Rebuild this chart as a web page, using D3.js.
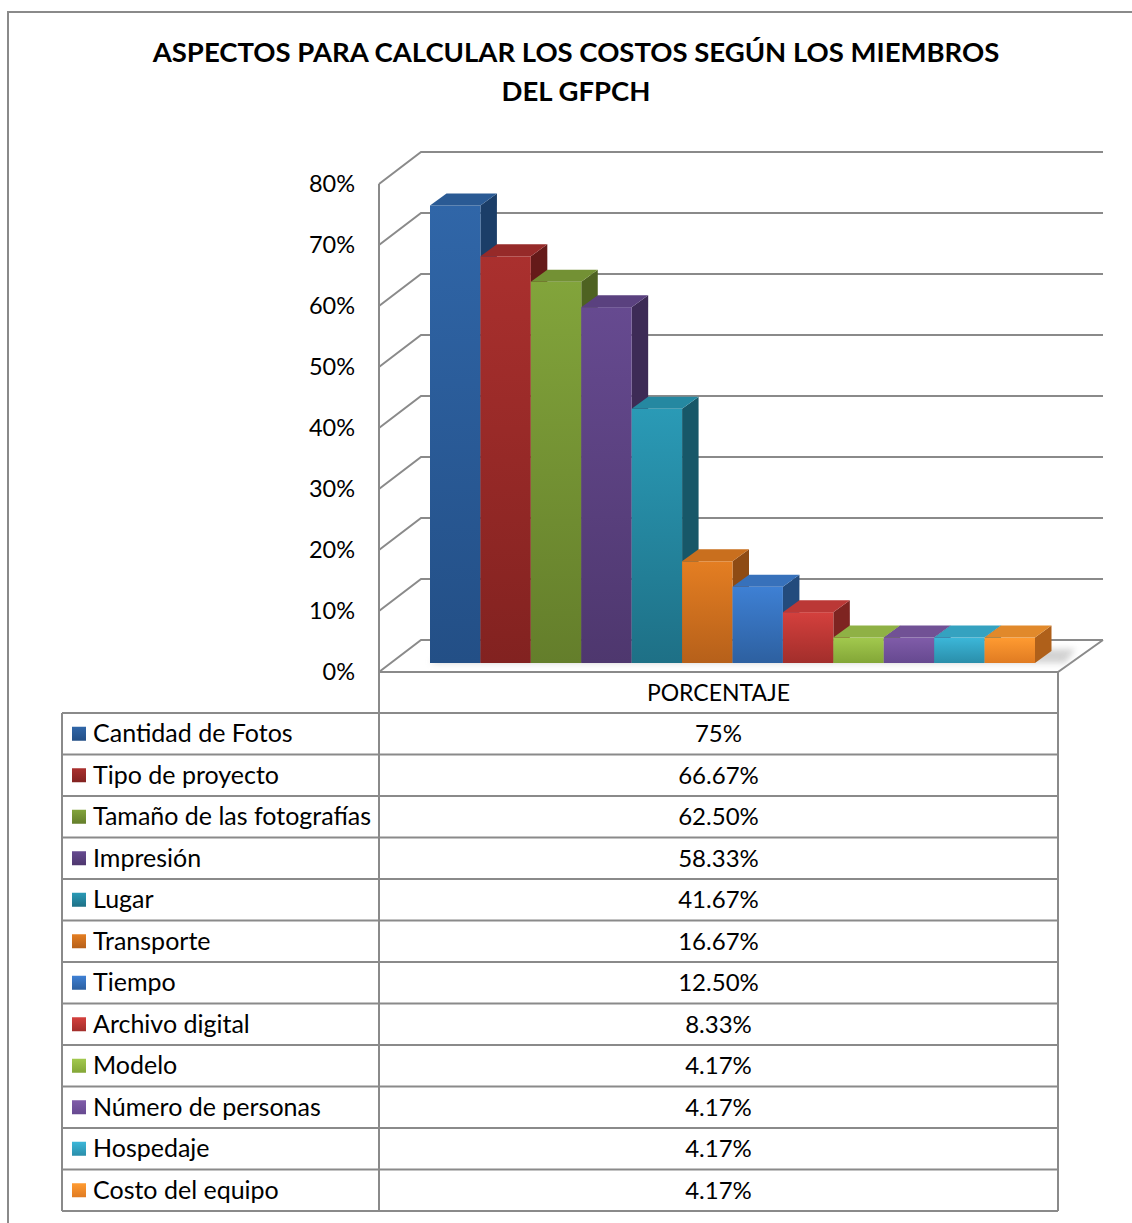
<!DOCTYPE html>
<html><head><meta charset="utf-8">
<script src="https://cdn.jsdelivr.net/npm/d3@7"></script>
<style>body{margin:0;background:#fff;overflow:hidden} svg{display:block}</style>
</head><body>
<script>
// ---- data ----
const titleLines = ["ASPECTOS PARA CALCULAR LOS COSTOS SEGÚN LOS MIEMBROS", "DEL GFPCH"];
const categories = ["Cantidad de Fotos","Tipo de proyecto","Tamaño de las fotografías","Impresión","Lugar","Transporte","Tiempo","Archivo digital","Modelo","Número de personas","Hospedaje","Costo del equipo"];
const values = [75, 66.67, 62.5, 58.33, 41.67, 16.67, 12.5, 8.33, 4.17, 4.17, 4.17, 4.17];
const valueLabels = ["75%","66.67%","62.50%","58.33%","41.67%","16.67%","12.50%","8.33%","4.17%","4.17%","4.17%","4.17%"];
const yTicks = [0,10,20,30,40,50,60,70,80];
const seriesName = "PORCENTAJE";

// ---- styles ----
const frontTop = ["#3066a8","#aa302e","#82a43b","#664a90","#2a9ab6","#e47e22","#3e80d4","#d4403d","#a2c94e","#805ca9","#3cb7d9","#ff9b31"];
const frontBot = ["#234f86","#822220","#647e2b","#4e376e","#1e7086","#b6601a","#2d60a0","#a22e2b","#83a637","#664990","#2a8eaa","#e07b22"];

const W = 1132, H = 1223;
const svg = d3.select("body").append("svg").attr("width", W).attr("height", H);
const defs = svg.append("defs");
categories.forEach((c,i)=>{
  const g = defs.append("linearGradient").attr("id","g"+i).attr("x1",0).attr("y1",0).attr("x2",0).attr("y2",1);
  g.append("stop").attr("offset","0%").attr("stop-color",frontTop[i]);
  g.append("stop").attr("offset","100%").attr("stop-color",frontBot[i]);
});
const blur = defs.append("filter").attr("id","blur").attr("x","-20%").attr("y","-50%").attr("width","140%").attr("height","200%");
blur.append("feGaussianBlur").attr("stdDeviation",3);

const font = "Lato, 'Open Sans', sans-serif";
const gridCol = "#8a8a8a";

// outer border
svg.append("rect").attr("x",8).attr("y",12).attr("width",W).attr("height",H).attr("fill","none").attr("stroke",gridCol).attr("stroke-width",2);

// title
svg.selectAll("text.title").data(titleLines).join("text").attr("class","title")
  .attr("x",576).attr("y",(d,i)=>62+i*39).attr("text-anchor","middle")
  .attr("font-family",font).attr("font-weight","bold").attr("font-size",27.5).attr("fill","#000")
  .text(d=>d);

// walls
const wallX0 = 379, wallX1 = 1058, depthX = 42, depthY = -32, backRight = 1103;
const yWall = d3.scaleLinear().domain([0,80]).range([672,184]);
const grid = svg.append("g").attr("stroke",gridCol).attr("stroke-width",2).attr("fill","none");
yTicks.forEach(t=>{
  const y = yWall(t);
  grid.append("path").attr("d",`M${wallX0},${y}L${wallX0+depthX},${y+depthY}L${backRight},${y+depthY}`);
});
grid.append("path").attr("d",`M${wallX0},${yWall(80)}L${wallX0},${yWall(0)}`);
grid.append("path").attr("d",`M${wallX0},${yWall(0)}L${wallX1},${yWall(0)}L${backRight},${yWall(0)+depthY}`);

// y labels
svg.selectAll("text.ytick").data(yTicks).join("text").attr("class","ytick")
  .attr("x",355).attr("y",d=>yWall(d)+8).attr("text-anchor","end")
  .attr("font-family",font).attr("font-size",23.5).attr("fill","#000").text(d=>d+"%");

// bars
const x = d3.scaleBand().domain(categories).range([430,1035]).padding(0);
const yBar = d3.scaleLinear().domain([0,80]).range([663,175]);
const bdx = 16.5, bdy = -12;

// shadow
const lastX = x(categories[categories.length-1]) + x.bandwidth();
svg.append("path").attr("d",`M${x(categories[0])},${yBar(0)}L${lastX+bdx+14},${yBar(0)}L${lastX+bdx+24},${yBar(0)+bdy-2}L${x(categories[0])+bdx},${yBar(0)+bdy}Z`)
  .attr("fill","#c8c8c8").attr("filter","url(#blur)").attr("opacity",0.8);

const bars = svg.append("g");
categories.forEach((c,i)=>{
  const x0 = x(c), w = x.bandwidth(), yt = yBar(values[i]), yb = yBar(0);
  const g = bars.append("g");
  const side = d3.color(frontBot[i]).darker(0.7);
  const top = d3.color(frontTop[i]).darker(0.35);
  g.append("path").attr("d",`M${x0+w},${yt}L${x0+w+bdx},${yt+bdy}L${x0+w+bdx},${yb+bdy}L${x0+w},${yb}Z`).attr("fill",side);
  g.append("rect").attr("x",x0).attr("y",yt).attr("width",w).attr("height",yb-yt).attr("fill",`url(#g${i})`);
  g.append("path").attr("d",`M${x0},${yt}L${x0+bdx},${yt+bdy}L${x0+w+bdx},${yt+bdy}L${x0+w},${yt}Z`).attr("fill",top);
});

// data table
const tblL = 62, tblMid = 379, tblR = 1058, headTop = 672, rowTop = 713, rowH = 41.5;
const tbl = svg.append("g").attr("stroke",gridCol).attr("stroke-width",2);
const nRows = categories.length;
const tblBottom = rowTop + rowH*nRows;
tbl.append("line").attr("x1",tblMid).attr("x2",tblMid).attr("y1",headTop).attr("y2",tblBottom);
tbl.append("line").attr("x1",tblR).attr("x2",tblR).attr("y1",headTop).attr("y2",tblBottom);
tbl.append("line").attr("x1",tblL).attr("x2",tblL).attr("y1",rowTop).attr("y2",tblBottom);
d3.range(nRows+1).forEach(r=>{
  tbl.append("line").attr("x1",tblL).attr("x2",tblR).attr("y1",rowTop+r*rowH).attr("y2",rowTop+r*rowH);
});
const midX = (tblMid+tblR)/2;
svg.append("text").attr("x",midX).attr("y",headTop+rowH/2+8).attr("text-anchor","middle")
  .attr("font-family",font).attr("font-size",23).attr("fill","#000").text(seriesName);

const rows = svg.selectAll("g.row").data(categories).join("g").attr("class","row")
  .attr("transform",(d,i)=>`translate(0,${rowTop+i*rowH+rowH/2})`);
rows.append("rect").attr("x",72).attr("y",-7).attr("width",14).attr("height",14).attr("fill",(d,i)=>`url(#g${i})`);
rows.append("text").attr("x",93).attr("y",8.5).attr("font-family",font).attr("font-size",25).attr("fill","#000").text(d=>d);
rows.append("text").attr("x",midX).attr("y",8.5).attr("text-anchor","middle").attr("font-family",font).attr("font-size",24).attr("fill","#000").text((d,i)=>valueLabels[i]);
</script>
</body></html>
